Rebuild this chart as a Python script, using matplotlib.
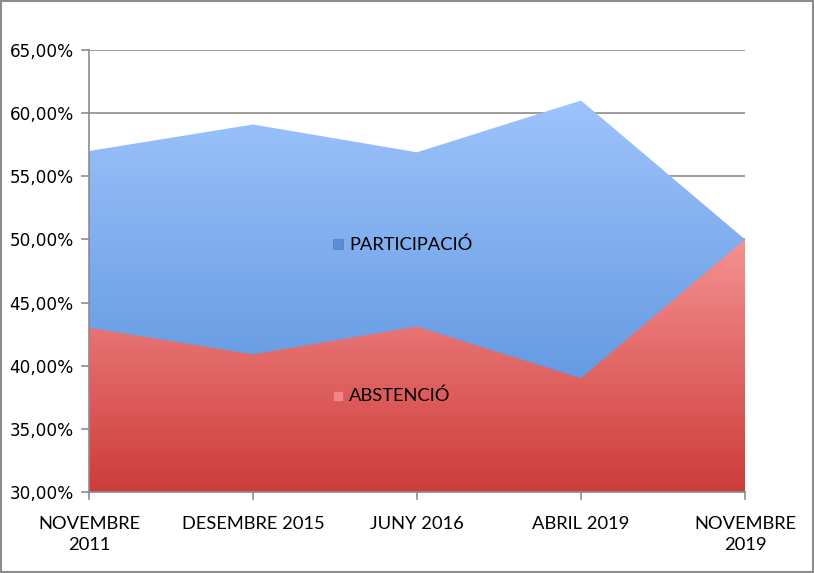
import numpy as np
import matplotlib
matplotlib.use("Agg")
import matplotlib.pyplot as plt
from matplotlib.colors import LinearSegmentedColormap
from matplotlib.ticker import FuncFormatter

# dades
eleccions = ["NOVEMBRE\n2011", "DESEMBRE 2015", "JUNY 2016", "ABRIL 2019", "NOVEMBRE\n2019"]
participacio = [57.0, 59.1, 56.9, 61.0, 50.0]
abstencio = [43.0, 40.9, 43.1, 39.0, 50.0]

narrow = ["Lato", "DejaVu Sans"]
gris = "#8c8c8c"

fig = plt.figure(figsize=(8.14, 5.73), dpi=100)
ax = fig.add_axes([89 / 814, 1 - 492 / 573, (745 - 89) / 814, (492 - 50) / 573])

x = np.arange(len(eleccions))
ymin, ymax = 30, 65
yt = np.arange(30, 66, 5)

# gradients
blau = LinearSegmentedColormap.from_list("blau", ["#4f8ad8", "#9dc3fb"])
vermell = LinearSegmentedColormap.from_list("vermell", ["#cd3c3a", "#f59292"])


def area_gradient(vals, cmap, z):
    poly = ax.fill_between(x, ymin, vals, color="none", lw=0, zorder=z)
    top = max(vals)
    grad = np.linspace(0, 1, 256).reshape(-1, 1)
    img = ax.imshow(grad, cmap=cmap, origin="lower", aspect="auto",
                    extent=[0, len(x) - 1, ymin, top], zorder=z)
    img.set_clip_path(poly.get_paths()[0], transform=ax.transData)
    return img


area_gradient(participacio, blau, 2)
area_gradient(abstencio, vermell, 3)
ax.set_xlim(0, len(eleccions) - 1)
ax.set_ylim(ymin, ymax)

# graella
for v in yt[1:]:
    ax.axhline(v, color=gris, lw=1.2, zorder=1)

# eixos
ax.set_yticks(yt)
ax.yaxis.set_major_formatter(FuncFormatter(lambda v, p: f"{v:.2f}%".replace(".", ",")))
ax.set_xticks(x)
ax.set_xticklabels(eleccions, family=narrow, fontsize=13.2, linespacing=1.45)
for s in ["top", "right"]:
    ax.spines[s].set_visible(False)
for s in ["left", "bottom"]:
    ax.spines[s].set_color(gris)
    ax.spines[s].set_linewidth(1.2)
    ax.spines[s].set_zorder(5)
ax.tick_params(axis="y", labelsize=12.2, length=0, pad=11, labelfontfamily="DejaVu Sans")
ax.tick_params(axis="x", length=0, pad=17)

# marques de l'eix, dibuixades a mà perquè quedin per sobre
dx = 7 / 164.0
dy = 7 / 12.63
for xi in x:
    ax.plot([xi, xi], [ymin, ymin - dy], color=gris, lw=1.2, clip_on=False, zorder=6)
for v in yt:
    ax.plot([0, -dx], [v, v], color=gris, lw=1.2, clip_on=False, zorder=6)

# etiquetes de llegenda dins del gràfic
ax.scatter([1.52], [49.6], marker="s", s=60, color="#5a8fd8", ec="#4a7fc8", lw=0.5, zorder=6)
ax.text(1.585, 49.6, "PARTICIPACIÓ", family=narrow, fontsize=13.2, va="center", zorder=6)
ax.scatter([1.52], [37.6], marker="s", s=60, color="#f08684", ec="#d85a58", lw=0.5, zorder=6)
ax.text(1.585, 37.6, "ABSTENCIÓ", family=narrow, fontsize=13.2, va="center", zorder=6)

# marc exterior
fig.patches.append(plt.Rectangle((0.001, 0.001), 0.998, 0.997, transform=fig.transFigure,
                                 fill=False, ec=gris, lw=1.5))

fig.savefig("out.png", dpi=100)
